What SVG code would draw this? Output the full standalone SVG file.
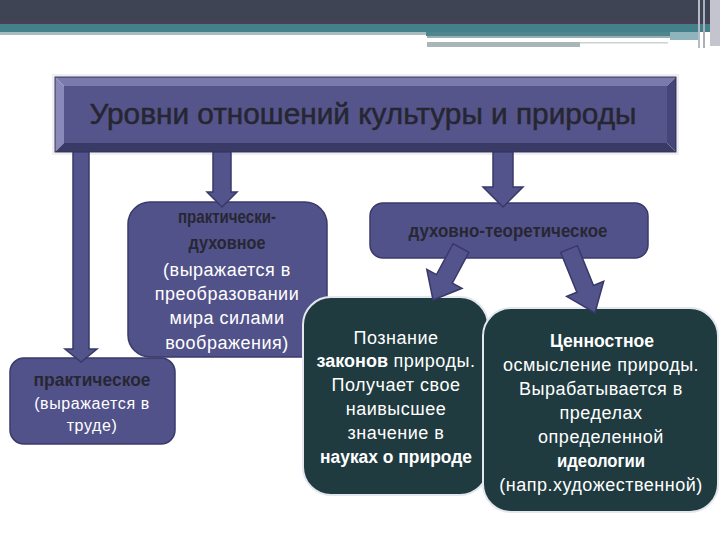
<svg xmlns="http://www.w3.org/2000/svg" width="720" height="540" viewBox="0 0 720 540">
<defs>
<style>
.pbox{fill:#52528a;stroke:#3a3a6a;stroke-width:1.5}
.dbox{fill:#1f3b3f;stroke:#e4e8ee;stroke-width:2}
.arr{fill:#54548c;stroke:#38386a;stroke-width:1.5;stroke-linejoin:miter}
.t{font-family:"Liberation Sans",Arial,sans-serif;text-anchor:middle}
.w{fill:#ffffff;font-size:18px;letter-spacing:0.5px}
.ws{fill:#ffffff;font-size:16px;letter-spacing:0.6px}
.dk{fill:#272733;font-weight:bold;font-size:19px}
.b{font-weight:bold;letter-spacing:0}
</style>
</defs>
<rect width="720" height="540" fill="#ffffff"/>
<g id="header">
<rect x="0" y="0" width="720" height="22" fill="#3f4455"/>
<rect x="0" y="22" width="720" height="2" fill="#4a3f56"/>
<rect x="0" y="24" width="720" height="8" fill="#43808a"/>
<rect x="0" y="32" width="426" height="3" fill="#a9bac0"/>
<rect x="426" y="32" width="274" height="4" fill="#4f868e"/>
<rect x="427" y="36" width="243" height="2" fill="#98aeb2"/>
<rect x="427" y="42" width="153" height="5" fill="#a8b6b8"/>
<rect x="580" y="42" width="88" height="1.5" fill="#c8d4d6"/>
<rect x="670" y="32" width="30" height="8" fill="#8fb4bc"/>
<rect x="698" y="0" width="2" height="48" fill="#b6bcc6"/>
<rect x="703" y="0" width="2" height="48" fill="#a8b0bc"/>
<rect x="710" y="0" width="10" height="46" fill="#c4c4ce"/>
</g>
<g id="title">
<rect x="53" y="75" width="625" height="79" fill="none" stroke="#eeeef4" stroke-width="2"/>
<rect x="64" y="86" width="603" height="57" fill="#55558c"/>
<polygon points="55,77 676,77 667,86 64,86" fill="#7a7aac"/>
<polygon points="55,77 64,86 64,143 55,152" fill="#8a8aba"/>
<polygon points="55,152 64,143 667,143 676,152" fill="#3a3a66"/>
<polygon points="676,77 676,152 667,143 667,86" fill="#45457a"/>
<rect x="55" y="77" width="621" height="75" fill="none" stroke="#30304e" stroke-width="1"/>
<text class="t" x="363" y="124" font-size="29" fill="#262632" stroke="#262632" stroke-width="0.5" textLength="547" lengthAdjust="spacingAndGlyphs">Уровни отношений культуры и природы</text>
</g>
<g id="practical-spiritual">
<rect class="pbox" x="128" y="202" width="199" height="155" rx="22"/>
<text class="t dk" x="227" y="223" textLength="98" lengthAdjust="spacingAndGlyphs">практически-</text>
<text class="t dk" x="227" y="249" textLength="77" lengthAdjust="spacingAndGlyphs">духовное</text>
<text class="t w" x="227" y="276">(выражается в</text>
<text class="t w" x="227" y="300">преобразовании</text>
<text class="t w" x="227" y="324">мира силами</text>
<text class="t w" x="227" y="349">воображения)</text>
</g>
<g id="practical">
<rect class="pbox" x="10" y="358" width="165" height="86" rx="14"/>
<text class="t dk" x="92" y="386" textLength="117" lengthAdjust="spacingAndGlyphs">практическое</text>
<text class="t ws" x="92" y="409">(выражается в</text>
<text class="t ws" x="92" y="431">труде)</text>
</g>
<g id="spiritual-theoretical">
<rect class="pbox" x="370" y="203" width="278" height="55" rx="13"/>
<text class="t dk" x="508" y="237" textLength="199" lengthAdjust="spacingAndGlyphs">духовно-теоретическое</text>
</g>
<g id="cognition">
<rect class="dbox" x="303" y="297" width="185" height="198" rx="28"/>
<text class="t w" x="396" y="344">Познание</text>
<text class="t w" x="396" y="367"><tspan class="b">законов</tspan> природы.</text>
<text class="t w" x="396" y="391">Получает свое</text>
<text class="t w" x="396" y="415">наивысшее</text>
<text class="t w" x="396" y="439">значение в</text>
<text class="t w b" x="396" y="463" textLength="152" lengthAdjust="spacingAndGlyphs">науках о природе</text>
</g>
<g id="value">
<rect class="dbox" x="483" y="308" width="235" height="204" rx="28"/>
<text class="t w b" x="602" y="347" textLength="104" lengthAdjust="spacingAndGlyphs">Ценностное</text>
<text class="t w" x="601" y="371">осмысление природы.</text>
<text class="t w" x="601" y="395">Вырабатывается в</text>
<text class="t w" x="601" y="419">пределах</text>
<text class="t w" x="601" y="443">определенной</text>
<text class="t w b" x="601" y="467" textLength="88" lengthAdjust="spacingAndGlyphs">идеологии</text>
<text class="t w" x="601" y="491">(напр.художественной)</text>
</g>
<g id="connectors">
<polygon class="arr" points="73,152 89,152 89,349 97,349 81,362 65,349 73,349"/>
<polygon class="arr" points="213,152 231,152 231,192 237,192 222,207 207,192 213,192"/>
<polygon class="arr" points="493,152 513,152 513,187 523,187 503,207 483,187 493,187"/>
<polygon class="arr" transform="translate(461,248) rotate(28.3)" points="-9,0 9,0 9,35 20,35 0,59 -20,35 -9,35"/>
<polygon class="arr" transform="translate(569,249) rotate(-22.1)" points="-9,0 9,0 9,43 20,43 0,69 -20,43 -9,43"/>
</g>
</svg>
